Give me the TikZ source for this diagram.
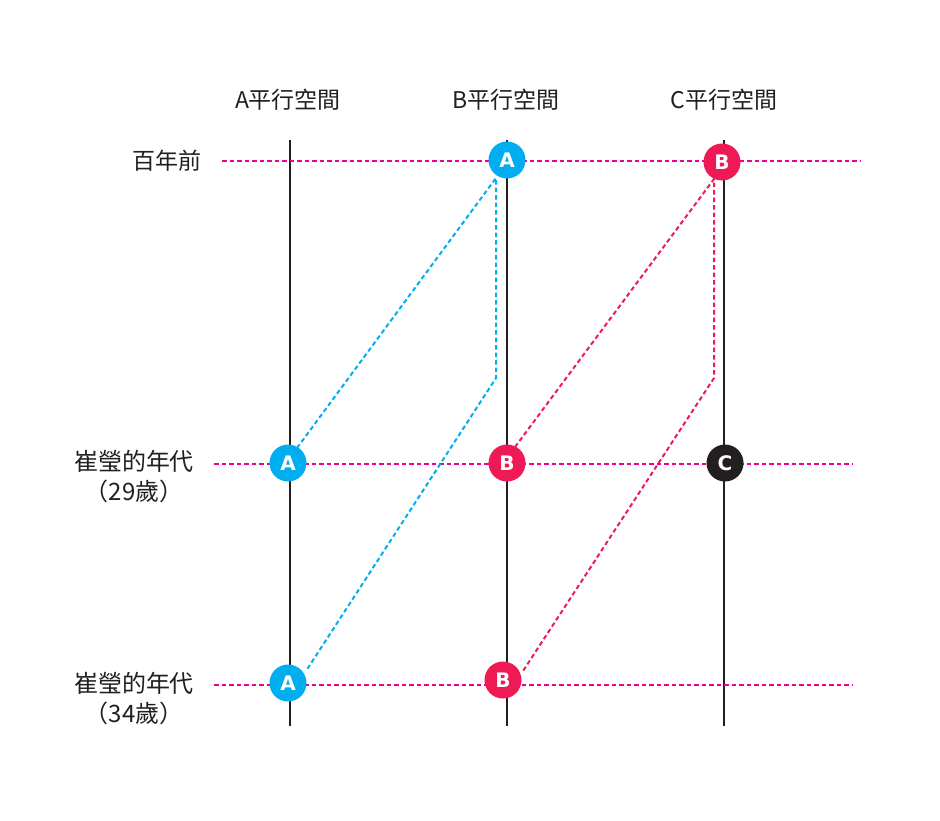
\documentclass[tikz,border=0pt]{standalone}
\usepackage{fontspec}
\newfontfamily\cjk{Noto Sans CJK TC}
\newfontfamily\badge{DejaVu Sans}
\definecolor{cblue}{HTML}{00AEEF}
\definecolor{cred}{HTML}{ED1A55}
\definecolor{cmag}{HTML}{EC008C}
\definecolor{cblk}{HTML}{231F20}
\begin{document}
\begin{tikzpicture}[x=1pt,y=-1pt,
  axis/.style={draw=cblk,line width=1.8pt},
  hline/.style={draw=cmag,line width=2pt,dash pattern=on 4.5pt off 3pt},
  bpath/.style={draw=cblue,line width=2pt,dash pattern=on 4.5pt off 3pt},
  rpath/.style={draw=cred,line width=2pt,dash pattern=on 4.5pt off 3pt},
  dot/.style={circle,minimum size=37pt,inner sep=0pt,text=white,font=\badge\bfseries\fontsize{20}{20}\selectfont},
  hdr/.style={font=\cjk\fontsize{23}{23}\selectfont,text=cblk,inner sep=0pt},
  lbl/.style={font=\cjk\fontsize{24}{30}\selectfont,text=cblk,inner sep=0pt,align=center}
]
\useasboundingbox (0,0) rectangle (940,820);
\fill[white] (0,0) rectangle (940,820);
% column headers
\node[hdr] (hA) at (288,100) {A平行空間};
\node[hdr] (hB) at (506,100) {B平行空間};
\node[hdr] (hC) at (724,100) {C平行空間};
% row labels
\node[hdr,anchor=east] (r1) at (202,161) {百年前};
\node[lbl] (r2) at (134,477) {崔瑩的年代\\（29歲）};
\node[lbl] (r3) at (134,699) {崔瑩的年代\\（34歲）};
% axes
\coordinate (aT) at (290,140); \coordinate (aB) at (290,726);
\coordinate (bT) at (507,140); \coordinate (bB) at (507,726);
\coordinate (cT) at (724,140); \coordinate (cB) at (724,726);
\draw[axis] (aT) -- (aB);
\draw[axis] (bT) -- (bB);
\draw[axis] (cT) -- (cB);
% horizontal dashed lines
\coordinate (h1L) at (222,161); \coordinate (h1R) at (860,161);
\coordinate (h2L) at (214,464); \coordinate (h2R) at (852,464);
\coordinate (h3L) at (214,685); \coordinate (h3R) at (852,685);
\draw[hline] (h1L) -- (h1R);
\draw[hline] (h2L) -- (h2R);
\draw[hline] (h3L) -- (h3R);
% path coordinates
\coordinate (bs) at (496,178);
\coordinate (bk) at (496,378);
\coordinate (be1) at (297,448);
\coordinate (be2) at (306,671);
\coordinate (rs) at (714,179);
\coordinate (rk) at (714,378);
\coordinate (re1) at (515,447);
\coordinate (re2) at (523,671);
\draw[bpath] (be1) -- (bs) -- (bk) -- (be2);
\draw[rpath] (re1) -- (rs) -- (rk) -- (re2);
% badges
\node[dot,fill=cblue] (A1) at (507,160) {A};
\node[dot,fill=cred] (B1) at (722,162) {B};
\node[dot,fill=cblue] (A2) at (288,463) {A};
\node[dot,fill=cred] (B2) at (507,463) {B};
\node[dot,fill=cblk] (C2) at (725,463) {C};
\node[dot,fill=cblue] (A3) at (288,683) {A};
\node[dot,fill=cred] (B3) at (503,680) {B};
\end{tikzpicture}
\end{document}
